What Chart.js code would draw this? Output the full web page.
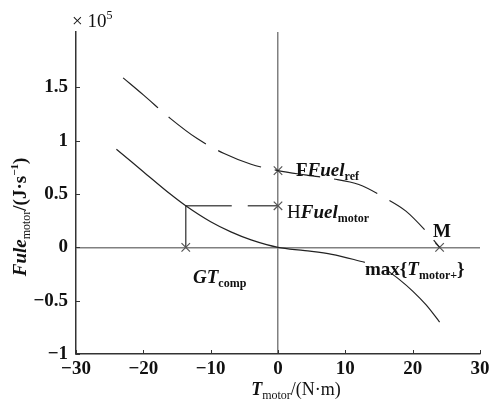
<!DOCTYPE html>
<html>
<head>
<meta charset="utf-8">
<script src="https://cdn.jsdelivr.net/npm/chart.js@4.4.1/dist/chart.umd.min.js"></script>
<style>
  body { margin: 0; background: #fff; }
</style>
</head>
<body>
<canvas id="myChart" width="494" height="408"></canvas>
<script>
// values in units of 10^5 J/s
const refX = [-23, -20, -16, -12, -8, -4, 0, 4, 8, 12, 16, 19, 22, 24];
const refY = [1.59, 1.43, 1.21, 1.02, 0.88, 0.78, 0.72, 0.68, 0.645, 0.59, 0.46, 0.34, 0.15, 0.0];

const maxX = [-24, -20, -16, -13.7, -10, -7, -4, 0, 4, 8, 12.9, 14.6, 16.3, 18, 20, 22, 24];
const maxY = [0.92, 0.71, 0.5, 0.39, 0.24, 0.145, 0.07, 0.0, -0.03, -0.065, -0.14, null, -0.22, -0.3, -0.41, -0.54, -0.7];

const compX = [-13.7, 0];
const fuelMotor = 0.39;
const markX = [-13.7, 0, 0, 24];
const markY = [0, 0.39, 0.72, 0];

const xTicks = [-30, -20, -10, 0, 10, 20, 30];
const yTicks = [-1, -0.5, 0, 0.5, 1, 1.5];

const serif = "'Liberation Serif', 'Times New Roman', serif";
const minus = (v) => String(v).replace("-", "\u2212");

function pts(xs, ys) {
  return xs.map((x, i) => ({ x: x, y: ys[i] }));
}

// draw a row of text pieces with their own font and vertical shift
function richText(ctx, x, y, runs, align) {
  let w = 0;
  runs.forEach((r) => {
    ctx.font = r.f;
    w += ctx.measureText(r.t).width;
  });
  let cx = align === "center" ? x - w / 2 : x;
  runs.forEach((r) => {
    ctx.font = r.f;
    ctx.fillText(r.t, cx, y + (r.dy || 0));
    cx += ctx.measureText(r.t).width;
  });
}

const B = "bold 19px " + serif;
const BI = "italic bold 19px " + serif;
const R = "19px " + serif;
const SB = "bold 12px " + serif;
const SR = "12px " + serif;

const extras = {
  id: "extras",
  afterDraw(chart) {
    const ctx = chart.ctx;
    const xs = chart.scales.x;
    const ys = chart.scales.y;
    const area = chart.chartArea;
    ctx.save();
    // inward tick marks
    ctx.strokeStyle = "#333";
    ctx.lineWidth = 1;
    ctx.beginPath();
    xTicks.forEach((v) => {
      const px = Math.round(xs.getPixelForValue(v)) + 0.5;
      ctx.moveTo(px, area.bottom);
      ctx.lineTo(px, area.bottom - 4);
    });
    yTicks.forEach((v) => {
      const py = Math.round(ys.getPixelForValue(v)) + 0.5;
      ctx.moveTo(area.left, py);
      ctx.lineTo(area.left + 4, py);
    });
    ctx.stroke();

    ctx.fillStyle = "#111";
    ctx.textBaseline = "alphabetic";
    ctx.textAlign = "left";
    // exponent
    richText(ctx, 72, 27, [
      { t: "\u00d7 10", f: "19px " + serif },
      { t: "5", f: "12px " + serif, dy: -8 },
    ]);
    // annotations
    richText(ctx, 296, 176, [
      { t: "F", f: B },
      { t: "Fuel", f: BI },
      { t: "ref", f: SB, dy: 4 },
    ]);
    richText(ctx, 287, 218, [
      { t: "H", f: R },
      { t: "Fuel", f: BI },
      { t: "motor", f: SB, dy: 4 },
    ]);
    richText(ctx, 433, 237, [{ t: "M", f: B }]);
    richText(ctx, 365, 275, [
      { t: "max{", f: B },
      { t: "T", f: BI },
      { t: "motor+", f: SB, dy: 4 },
      { t: "}", f: B },
    ]);
    richText(ctx, 193, 283, [
      { t: "GT", f: BI },
      { t: "comp", f: SB, dy: 4 },
    ]);
    // axis titles
    richText(ctx, 296, 395, [
      { t: "T", f: "italic bold 18px " + serif },
      { t: "motor", f: SR, dy: 4 },
      { t: "/(N\u00b7m)", f: "18px " + serif },
    ], "center");
    ctx.translate(26, 217);
    ctx.rotate(-Math.PI / 2);
    richText(ctx, 0, 0, [
      { t: "Fule", f: BI },
      { t: "motor", f: SR, dy: 4 },
      { t: "/(J\u00b7s", f: B },
      { t: "\u22121", f: "bold 11px " + serif, dy: -8 },
      { t: ")", f: B },
    ], "center");
    ctx.restore();
  },
};

const ctx = document.getElementById("myChart");

new Chart(ctx, {
  type: "scatter",
  data: {
    datasets: [
      {
        label: "Fuel ref",
        data: pts(refX, refY),
        showLine: true,
        borderColor: "#222",
        borderWidth: 1.2,
        borderDash: [46, 14],
        pointRadius: 0,
        cubicInterpolationMode: "monotone",
      },
      {
        label: "max T motor+",
        data: pts(maxX, maxY),
        showLine: true,
        spanGaps: false,
        borderColor: "#222",
        borderWidth: 1.2,
        pointRadius: 0,
        cubicInterpolationMode: "monotone",
      },
      {
        label: "Fuel motor",
        data: pts(compX, [fuelMotor, fuelMotor]),
        showLine: true,
        borderColor: "#555",
        borderWidth: 1.5,
        borderDash: [46, 16],
        pointRadius: 0,
      },
      {
        label: "T comp",
        data: pts([compX[0], compX[0]], [0, fuelMotor]),
        showLine: true,
        borderColor: "#555",
        borderWidth: 1.5,
        pointRadius: 0,
      },
      {
        label: "marks",
        data: pts(markX, markY),
        showLine: false,
        pointStyle: "crossRot",
        pointRadius: 6,
        borderColor: "#555",
        borderWidth: 1.2,
      },
    ],
  },
  options: {
    responsive: false,
    animation: false,
    layout: { padding: { left: 0, right: 14, top: 32, bottom: 0 } },
    plugins: { legend: { display: false }, tooltip: { enabled: false } },
    scales: {
      x: {
        type: "linear",
        min: -30,
        max: 30,
        afterFit: (s) => { s.height = 54; },
        afterBuildTicks: (s) => { s.ticks = xTicks.map((v) => ({ value: v })); },
        border: { display: true, color: "#333", width: 1.5 },
        grid: {
          drawTicks: false,
          lineWidth: 1.5,
          color: (c) => (c.tick && c.tick.value === 0 ? "#808080" : "rgba(0,0,0,0)"),
        },
        ticks: {
          padding: 4,
          color: "#111",
          font: { family: serif, size: 19, weight: "bold" },
          maxRotation: 0,
          callback: (v) => minus(v),
        },
      },
      y: {
        min: -1,
        max: 2.02,
        afterFit: (s) => { s.width = 76; },
        afterBuildTicks: (s) => { s.ticks = yTicks.map((v) => ({ value: v })); },
        border: { display: true, color: "#333", width: 1.5 },
        grid: {
          drawTicks: false,
          lineWidth: 1.5,
          color: (c) => (c.tick && c.tick.value === 0 ? "#808080" : "rgba(0,0,0,0)"),
        },
        ticks: {
          padding: 8,
          color: "#111",
          font: { family: serif, size: 19, weight: "bold" },
          callback: (v) => minus(v),
        },
      },
    },
  },
  plugins: [extras],
});
</script>
</body>
</html>
